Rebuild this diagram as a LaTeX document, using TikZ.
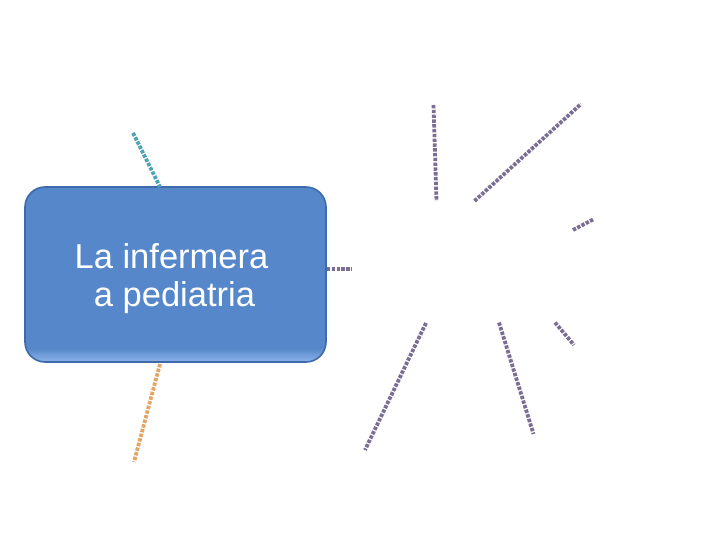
\documentclass[tikz,border=0pt]{standalone}
\usepackage{fontspec}
\setmainfont{Liberation Sans}
\definecolor{boxfill}{HTML}{5587CA}
\definecolor{boxedge}{HTML}{3E6AAB}
\definecolor{boxglow}{HTML}{8DB3EA}
\definecolor{teal}{HTML}{4FA3B6}
\definecolor{orng}{HTML}{E3A466}
\definecolor{purp}{HTML}{7A6E94}
\begin{document}
\begin{tikzpicture}[x=1pt,y=-1pt,
  dots/.style={line width=3.8pt,dash pattern=on 3.4pt off 1.4pt},
  lbl/.style={text=white,font=\fontsize{34.5}{40}\selectfont,inner sep=0pt,anchor=base}]
\useasboundingbox (0,0) rectangle (720,540);
% central box
\begin{scope}
\clip[rounded corners=20pt] (25,187) rectangle (326,362);
\fill[boxfill] (25,187) rectangle (326,362);
\shade[top color=boxfill,bottom color=boxglow] (25,348) rectangle (326,362);
\end{scope}
\draw[boxedge,line width=1.6pt,rounded corners=20pt] (25,187) rectangle (326,362);
\node[lbl] (t1) at (171.5,268) {La infermera};
\node[lbl] (t2) at (174.5,306) {a pediatria};
% connector end points
\coordinate (a1) at (133,133); \coordinate (a2) at (160,187);
\coordinate (b1) at (160,364); \coordinate (b2) at (134,462);
\coordinate (c1) at (327,269); \coordinate (c2) at (352,269);
\coordinate (d1) at (433.5,105); \coordinate (d2) at (436.5,201);
\coordinate (e1) at (474.5,201); \coordinate (e2) at (581,104);
\coordinate (f1) at (573,230); \coordinate (f2) at (594,219);
\coordinate (g1) at (426,323); \coordinate (g2) at (365,450);
\coordinate (h1) at (499,322.5); \coordinate (h2) at (533.5,434);
\coordinate (i1) at (555,322.5); \coordinate (i2) at (574,345);
\draw[dots,teal] (a1) -- (a2);
\draw[dots,orng] (b1) -- (b2);
\draw[dots,purp] (c1) -- (c2);
\draw[dots,purp] (d1) -- (d2);
\draw[dots,purp] (e1) -- (e2);
\draw[dots,purp] (f1) -- (f2);
\draw[dots,purp] (g1) -- (g2);
\draw[dots,purp] (h1) -- (h2);
\draw[dots,purp] (i1) -- (i2);
\end{tikzpicture}
\end{document}
